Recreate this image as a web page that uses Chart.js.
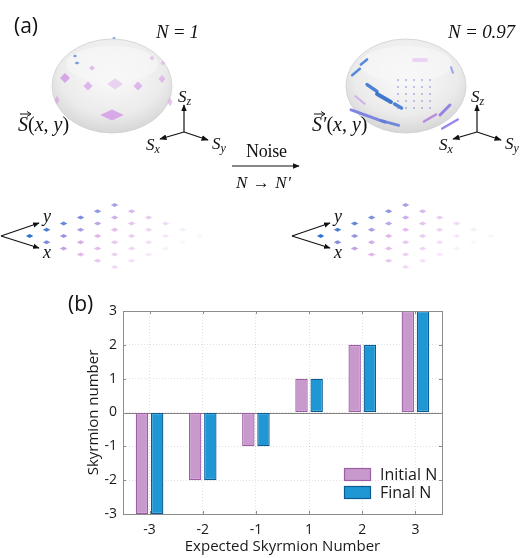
<!DOCTYPE html>
<html><head><meta charset="utf-8">
<script src="https://cdn.jsdelivr.net/npm/chart.js@4.4.1/dist/chart.umd.min.js"></script>
<style>
html,body{margin:0;padding:0;background:#fff;}
#wrap{position:relative;width:520px;height:558px;overflow:hidden;background:#fff;}
#fig{position:absolute;left:0;top:0;pointer-events:none;}
#chartBox{position:absolute;left:0;top:280px;width:520px;height:278px;}
.sans{font-family:"Open Sans","DejaVu Sans",sans-serif;}
.math{font-family:"Liberation Serif","DejaVu Serif",serif;font-style:italic;}
.rm{font-family:"Liberation Serif","DejaVu Serif",serif;font-style:normal;}
</style></head><body>
<div id="wrap">
<div id="chartBox"><canvas id="c"></canvas></div>
<svg id="fig" width="520" height="558" xmlns="http://www.w3.org/2000/svg">
<defs>
 <radialGradient id="g1" cx="50%" cy="38%" r="62%">
  <stop offset="0" stop-color="#fbfbfb"/><stop offset="0.7" stop-color="#ebebeb"/><stop offset="1" stop-color="#d6d6d6"/>
 </radialGradient>
 <marker id="ah" viewBox="0 0 10 10" refX="9" refY="5" markerWidth="6" markerHeight="6" orient="auto-start-reverse">
  <path d="M0,1 L10,5 L0,9 z" fill="#111"/>
 </marker>
</defs>
<g id="topG"></g>
</svg>
</div>
<script>
// ---- chart data ----
const categories = ['-3', '-2', '-1', '1', '2', '3'];
const initialN = [-3, -2, -1, 1, 2, 3];
const finalN = [-3, -2, -1, 1, 2, 3];
const yTicks = [-3, -2, -1, 0, 1, 2, 3];
const seriesNames = ['Initial N', 'Final N'];
const xTitle = 'Expected Skyrmion Number';
const yTitle = 'Skyrmion number';

// ---- illustration (panel a), decorative ----
const NS = 'http://www.w3.org/2000/svg';
const topG = document.getElementById('topG');
function el(tag, attrs, parent) {
  const e = document.createElementNS(NS, tag);
  for (const k in attrs) e.setAttribute(k, attrs[k]);
  (parent || topG).appendChild(e);
  return e;
}
function txt(x, y, s, cls, size, extra) {
  const t = el('text', Object.assign({x: x, y: y, class: cls, 'font-size': size, fill: '#111'}, extra || {}));
  t.textContent = s;
  return t;
}
function arrow(x1, y1, x2, y2, w) {
  el('line', {x1: x1, y1: y1, x2: x2, y2: y2, stroke: '#111', 'stroke-width': w || 1.2, 'marker-end': 'url(#ah)'});
}
function diamond(cx, cy, w, h, fill, op) {
  el('polygon', {points: `${cx - w / 2},${cy} ${cx},${cy - h / 2} ${cx + w / 2},${cy} ${cx},${cy + h / 2}`, fill: fill, 'fill-opacity': op});
}
function vecS(x, y, prime) {
  const t = el('text', {x: x, y: y, 'font-size': 20, fill: '#111', class: 'rm'});
  const a = document.createElementNS(NS, 'tspan'); a.setAttribute('class', 'math'); a.textContent = 'S' + (prime ? '\u2032' : ''); t.appendChild(a);
  const b = document.createElementNS(NS, 'tspan'); b.textContent = '('; t.appendChild(b);
  const c = document.createElementNS(NS, 'tspan'); c.setAttribute('class', 'math'); c.textContent = 'x'; t.appendChild(c);
  const d = document.createElementNS(NS, 'tspan'); d.textContent = ', '; t.appendChild(d);
  const e = document.createElementNS(NS, 'tspan'); e.setAttribute('class', 'math'); e.textContent = 'y'; t.appendChild(e);
  const f = document.createElementNS(NS, 'tspan'); f.textContent = ')'; t.appendChild(f);
  el('line', {x1: x + 2, y1: y - 17, x2: x + 12, y2: y - 17, stroke: '#111', 'stroke-width': 1});
  el('path', {d: `M${x + 9},${y - 19.5} L${x + 13},${y - 17} L${x + 9},${y - 14.5}`, stroke: '#111', fill: 'none', 'stroke-width': 1});
}
function spinAxes(ox, oy) {
  arrow(ox, oy, ox, oy - 27);
  arrow(ox, oy, ox - 24, oy + 7);
  arrow(ox, oy, ox + 24, oy + 8);
  const lab = (x, y, sub) => {
    const t = el('text', {x: x, y: y, class: 'math', 'font-size': 17, fill: '#111'});
    t.textContent = 'S';
    const s = document.createElementNS(NS, 'tspan'); s.setAttribute('font-size', 12); s.setAttribute('dy', 3); s.textContent = sub; t.appendChild(s);
  };
  lab(ox - 6, oy - 30, 'z');
  lab(ox - 38, oy + 18, 'x');
  lab(ox + 28, oy + 17, 'y');
}
function ellipsoid(cx, cy) {
  el('ellipse', {cx: cx, cy: cy, rx: 60, ry: 47, fill: 'url(#g1)', stroke: '#d0d0d0', 'stroke-width': 0.8});
  el('ellipse', {cx: cx, cy: cy - 22, rx: 46, ry: 18, fill: '#f6f6f6', 'fill-opacity': 0.7});
}
function dotGrid(ox, oy) {
  arrow(ox, oy, ox + 38, oy - 13, 1.1);
  arrow(ox, oy, ox + 38, oy + 12, 1.1);
  txt(ox + 42, oy - 14, 'y', 'math', 18);
  txt(ox + 42, oy + 22, 'x', 'math', 18);
  const blue = [45, 115, 210], pink = [205, 130, 220];
  for (let i = 0; i < 6; i++) for (let j = 0; j < 6; j++) {
    const cx = ox + 28.6 + 17 * (i + j);
    const cy = oy + 6.2 * (i - j);
    const m = Math.min(1, i / 2.5 + j / 10);
    const c = blue.map((b, k) => Math.round(b + (pink[k] - b) * m));
    const op = Math.max(0.08, 1 - 0.14 * i - 0.06 * j);
    diamond(cx, cy, 7.5, 4, `rgb(${c.join(',')})`, op);
  }
}
txt(14, 33, '(a)', 'sans', 21);
txt(156, 38, 'N = 1', 'math', 19, {textLength: 43, lengthAdjust: 'spacing'});
txt(448, 38, 'N = 0.97', 'math', 19, {textLength: 67, lengthAdjust: 'spacing'});
ellipsoid(112, 86);
[[65, 78, 10, 10, 0.75], [88, 86, 9, 9, 0.6], [138, 86, 9, 9, 0.6], [162, 79, 7, 8, 0.5], [112, 115, 24, 11, 0.7],
 [92, 68, 6, 5, 0.55], [152, 58, 5, 5, 0.45], [163, 63, 5, 5, 0.4], [57, 100, 5, 9, 0.5], [170, 102, 5, 9, 0.5], [115, 84, 16, 11, 0.35]]
  .forEach(p => diamond(p[0], p[1], p[2], p[3], '#cf8fe6', p[4]));
[[77, 63, 5, 3], [75, 56, 4, 3], [114, 38, 4, 2]].forEach(p => diamond(p[0], p[1], p[2], p[3], '#4f7fe0', 0.8));
vecS(18, 131, false);
spinAxes(184, 132);
txt(246, 157, 'Noise', 'rm', 18, {textLength: 41, lengthAdjust: 'spacing'});
arrow(232, 166, 299, 166, 1.1);
txt(236, 188, 'N \u2192 N\u2032', 'math', 17, {textLength: 55, lengthAdjust: 'spacing'});
ellipsoid(406, 86);
const strokes = [[356, 72, 10, -40, '#3d78d8', 2.5], [364, 62, 8, -40, '#3d78d8', 2.5], [372, 88, 12, 35, '#2f6fd0', 3.5],
 [384, 98, 16, 30, '#1f62c4', 4], [398, 106, 8, 30, '#2f6fd0', 3.5], [368, 116, 36, 20, '#6b73e0', 3], [390, 123, 18, 15, '#5d79d8', 3],
 [445, 110, 14, -45, '#8a70e0', 3], [450, 124, 18, -30, '#8a70e8', 2.5], [430, 118, 14, -30, '#b07ae0', 2.5], [452, 70, 6, 70, '#8a9ae8', 2],
 [420, 60, 12, 0, '#e9cdf3', 4], [360, 100, 12, 40, '#c9a8e8', 2]];
strokes.forEach(s => {
  const r = s[3] * Math.PI / 180, dx = Math.cos(r) * s[2] / 2, dy = Math.sin(r) * s[2] / 2;
  el('line', {x1: s[0] - dx, y1: s[1] - dy, x2: s[0] + dx, y2: s[1] + dy, stroke: s[4], 'stroke-width': s[5], 'stroke-linecap': 'round', 'stroke-opacity': 0.85});
});
for (let i = 0; i < 5; i++) for (let j = 0; j < 5; j++) {
  el('circle', {cx: 398 + 8 * i, cy: 80 + 7 * j, r: 0.9, fill: '#7a86d8', 'fill-opacity': 0.7});
}
vecS(312, 131, true);
spinAxes(477, 132);
dotGrid(1, 236);
dotGrid(292, 236);
txt(68, 311, '(b)', 'sans', 21);

// ---- chart (panel b) ----
const pinkFill = '#c899cd', pinkLine = '#9d5ea6';
const blueFill = '#1f97d4', blueLine = '#0b5b94';

const framePlugin = {
  id: 'frame',
  beforeDatasetsDraw(chart) {
    const {ctx, chartArea: a, scales: {y}} = chart;
    const y0 = Math.round(y.getPixelForValue(0)) + 0.5;
    ctx.save();
    ctx.strokeStyle = '#808080'; ctx.lineWidth = 1;
    ctx.beginPath(); ctx.moveTo(a.left, y0); ctx.lineTo(a.right, y0); ctx.stroke();
    ctx.restore();
  },
  afterDatasetsDraw(chart) {
    const {ctx, chartArea: a, scales: {x, y}} = chart;
    ctx.save();
    ctx.strokeStyle = '#8c8c8c'; ctx.lineWidth = 1;
    ctx.strokeRect(Math.round(a.left) + 0.5, Math.round(a.top) + 0.5, Math.round(a.right - a.left), Math.round(a.bottom - a.top));
    ctx.beginPath();
    y.ticks.forEach((t, i) => {
      const p = Math.round(y.getPixelForTick(i)) + 0.5;
      ctx.moveTo(a.left, p); ctx.lineTo(a.left + 3, p);
      ctx.moveTo(a.right, p); ctx.lineTo(a.right - 3, p);
    });
    x.ticks.forEach((t, i) => {
      const p = Math.round(x.getPixelForTick(i)) + 0.5;
      ctx.moveTo(p, a.bottom); ctx.lineTo(p, a.bottom - 3);
      ctx.moveTo(p, a.top); ctx.lineTo(p, a.top + 3);
    });
    ctx.stroke();
    const bx = a.right - 98;
    chart.data.datasets.forEach((ds, k) => {
      const by = a.bottom - 46 + k * 18;
      ctx.fillStyle = ds.backgroundColor; ctx.strokeStyle = ds.borderColor; ctx.lineWidth = 1.2;
      ctx.fillRect(bx, by, 27, 13); ctx.strokeRect(bx + 0.5, by + 0.5, 26, 12);
      ctx.fillStyle = '#1a1a1a'; ctx.font = '16px "Open Sans", "DejaVu Sans", sans-serif';
      ctx.textBaseline = 'middle'; ctx.textAlign = 'left';
      ctx.fillText(ds.label, bx + 36, by + 7);
    });
    ctx.restore();
  }
};

new Chart(document.getElementById('c'), {
  type: 'bar',
  data: {
    labels: categories,
    datasets: [
      {label: seriesNames[0], data: initialN, backgroundColor: pinkFill, borderColor: pinkLine, borderWidth: 1.3, borderSkipped: false},
      {label: seriesNames[1], data: finalN, backgroundColor: blueFill, borderColor: blueLine, borderWidth: 1.3, borderSkipped: false}
    ]
  },
  options: {
    responsive: true, maintainAspectRatio: false, animation: false,
    categoryPercentage: 0.57, barPercentage: 0.82,
    layout: {padding: {top: 31, right: 78, left: 0, bottom: 0}},
    plugins: {legend: {display: false}, tooltip: {enabled: false}},
    scales: {
      x: {
        grid: {offset: false, drawTicks: false, color: 'rgba(0,0,0,0.12)', lineWidth: 1},
        border: {display: false, dash: [1, 2]},
        ticks: {color: '#1a1a1a', font: {family: '"Open Sans", "DejaVu Sans", sans-serif', size: 14}, padding: 8},
        title: {display: true, text: xTitle, color: '#1a1a1a', font: {family: '"Open Sans", "DejaVu Sans", sans-serif', size: 15}, padding: {top: 0, bottom: 2}},
        afterFit(s) { s.height = 44; }
      },
      y: {
        min: yTicks[0], max: yTicks[yTicks.length - 1],
        afterBuildTicks(s) { s.ticks = yTicks.map(v => ({value: v})); },
        grid: {drawTicks: false, color: 'rgba(0,0,0,0.12)', lineWidth: 1},
        border: {display: false, dash: [1, 2]},
        ticks: {color: '#1a1a1a', font: {family: '"Open Sans", "DejaVu Sans", sans-serif', size: 14}, padding: 6},
        title: {display: true, text: yTitle, color: '#1a1a1a', font: {family: '"Open Sans", "DejaVu Sans", sans-serif', size: 15}, padding: {top: 85, bottom: 0}},
        afterFit(s) { s.width = 123; }
      }
    }
  },
  plugins: [framePlugin]
});
</script>
</body></html>
